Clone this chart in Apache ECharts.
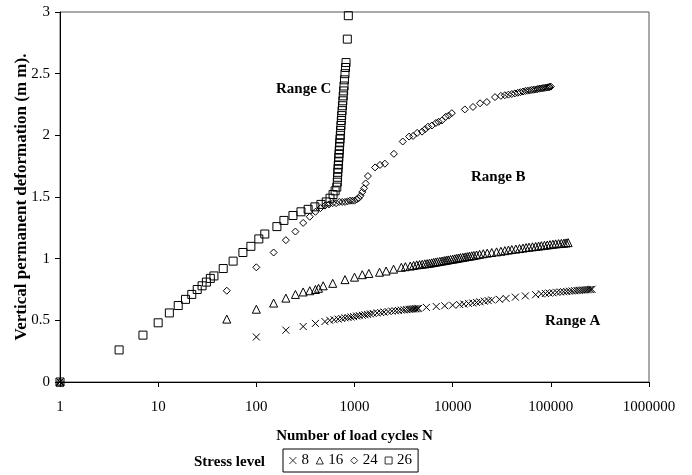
<!DOCTYPE html>
<html>
<head>
<meta charset="utf-8">
<script src="https://cdn.jsdelivr.net/npm/echarts@6/dist/echarts.min.js"></script>
<style>
html,body{margin:0;padding:0;background:#fff;}
#chart{width:692px;height:475px;}
</style>
</head>
<body>
<div id="chart"></div>
<script>
// Stress level names
const seriesNames = ['8', '16', '24', '26'];
// X-axis tick labels (log scale)
const xTicks = [1, 10, 100, 1000, 10000, 100000, 1000000];
// Y-axis tick labels
const yTicks = [0, 0.5, 1, 1.5, 2, 2.5, 3];

// Stress level 8 (x markers)
const n8 = [1, 100, 200, 300, 400, 500, 560, 620, 680, 740, 800, 860, 920, 980, 1050, 1120, 1200, 1280, 1360, 1450, 1550, 1700, 1850, 2000, 2200, 2400, 2600, 2800, 3000, 3200, 3400, 3600, 3750, 3900, 4050, 4200, 4350, 4500, 5400, 6800, 8300, 10000, 11800, 13000, 14500, 16000, 17500, 19000, 21000, 23000, 25000, 30000, 35000, 43500, 55000, 70000, 80000, 88000, 96000, 105000, 115000, 125000, 135000, 145000, 155000, 165000, 175000, 185000, 195000, 205000, 215000, 225000, 235000, 245000, 255000, 263000];
const v8 = [0, 0.365, 0.42, 0.45, 0.475, 0.49, 0.50, 0.505, 0.51, 0.515, 0.52, 0.523, 0.527, 0.53, 0.535, 0.538, 0.541, 0.545, 0.548, 0.552, 0.556, 0.56, 0.563, 0.567, 0.571, 0.575, 0.578, 0.58, 0.583, 0.585, 0.587, 0.589, 0.59, 0.592, 0.593, 0.594, 0.595, 0.597, 0.605, 0.612, 0.618, 0.623, 0.628, 0.632, 0.637, 0.641, 0.645, 0.65, 0.655, 0.66, 0.665, 0.67, 0.678, 0.688, 0.698, 0.708, 0.715, 0.718, 0.721, 0.724, 0.727, 0.73, 0.732, 0.734, 0.736, 0.738, 0.74, 0.742, 0.743, 0.745, 0.746, 0.747, 0.748, 0.749, 0.75, 0.752];

// Stress level 16 (triangles)
const n16 = [1, 50, 100, 150, 200, 250, 300, 350, 400, 430, 480, 600, 800, 1000, 1200, 1400, 1800, 2100, 2500, 3000, 3300, 3700, 4000, 4300, 4600, 4900, 5200, 5500, 5800, 6100, 6400, 6700, 7000, 7400, 7800, 8200, 8600, 9000, 9500, 10000, 10500, 11000, 11500, 12000, 12700, 13400, 14100, 14800, 15600, 16400, 17500, 18800, 20500, 22500, 25000, 28000, 31000, 34000, 37000, 40000, 44000, 48000, 52000, 56000, 60000, 65000, 70000, 75000, 80000, 86000, 92000, 98000, 105000, 112000, 120000, 128000, 136000, 143000, 150000];
const v16 = [0, 0.51, 0.59, 0.64, 0.68, 0.71, 0.73, 0.74, 0.75, 0.76, 0.78, 0.80, 0.83, 0.85, 0.87, 0.88, 0.89, 0.90, 0.915, 0.93, 0.935, 0.94, 0.945, 0.95, 0.952, 0.955, 0.958, 0.96, 0.963, 0.966, 0.969, 0.972, 0.975, 0.978, 0.981, 0.984, 0.987, 0.99, 0.993, 0.996, 0.999, 1.002, 1.005, 1.008, 1.011, 1.014, 1.017, 1.02, 1.023, 1.026, 1.03, 1.035, 1.04, 1.045, 1.05, 1.055, 1.06, 1.065, 1.07, 1.074, 1.078, 1.082, 1.086, 1.09, 1.093, 1.096, 1.099, 1.102, 1.105, 1.108, 1.111, 1.114, 1.117, 1.12, 1.122, 1.124, 1.126, 1.128, 1.13];

// Stress level 24 (diamonds)
const n24 = [1, 50, 100, 150, 200, 250, 300, 350, 400, 450, 500, 550, 600, 650, 700, 750, 800, 850, 900, 950, 1000, 1050, 1100, 1150, 1200, 1250, 1300, 1370, 1620, 1820, 2040, 2520, 3100, 3600, 3950, 4350, 4880, 5240, 5610, 6150, 6740, 7200, 7750, 8500, 9100, 9800, 13300, 16100, 19000, 22300, 27000, 31000, 34000, 37000, 40000, 43000, 46000, 49000, 52000, 55000, 58000, 61000, 64000, 67000, 70000, 73000, 76000, 79000, 82000, 85000, 88000, 91000, 94000, 97000, 100000];
const v24 = [0, 0.74, 0.93, 1.05, 1.15, 1.22, 1.29, 1.34, 1.38, 1.41, 1.43, 1.44, 1.45, 1.45, 1.46, 1.46, 1.46, 1.465, 1.47, 1.47, 1.47, 1.48, 1.49, 1.51, 1.54, 1.57, 1.61, 1.67, 1.74, 1.76, 1.77, 1.85, 1.95, 1.99, 1.995, 2.02, 2.03, 2.05, 2.07, 2.08, 2.10, 2.11, 2.12, 2.15, 2.16, 2.18, 2.21, 2.23, 2.26, 2.27, 2.31, 2.32, 2.325, 2.33, 2.335, 2.34, 2.345, 2.35, 2.355, 2.36, 2.362, 2.365, 2.368, 2.37, 2.372, 2.375, 2.378, 2.38, 2.382, 2.384, 2.386, 2.388, 2.39, 2.392, 2.395];

// Stress level 26 (squares)
const n26 = [1, 4, 7, 10, 13, 16, 19, 22, 25, 28, 31, 34, 37, 46, 58, 73, 88, 106, 122, 162, 191, 236, 285, 337, 395, 455, 515, 563, 605, 635, 660, 668, 672, 676, 680, 684, 688, 692, 696, 700, 704, 708, 712, 717, 722, 728, 734, 740, 747, 754, 761, 768, 775, 782, 790, 800, 810, 820, 845, 865];
const v26 = [0, 0.26, 0.38, 0.48, 0.56, 0.62, 0.67, 0.71, 0.75, 0.78, 0.81, 0.84, 0.86, 0.92, 0.98, 1.05, 1.10, 1.16, 1.20, 1.26, 1.31, 1.35, 1.38, 1.40, 1.42, 1.44, 1.46, 1.49, 1.52, 1.55, 1.58, 1.62, 1.66, 1.70, 1.73, 1.76, 1.79, 1.82, 1.85, 1.88, 1.91, 1.94, 1.97, 2.00, 2.04, 2.08, 2.12, 2.16, 2.20, 2.24, 2.28, 2.32, 2.36, 2.40, 2.45, 2.50, 2.55, 2.59, 2.78, 2.97];

// Range annotations
const rangeLabels = ['Range C', 'Range B', 'Range A'];

function zip(a, b) { return a.map((x, i) => [x, b[i]]); }

const FONT = '"Liberation Serif", "Times New Roman", serif';
const symbols = ['path://M0,0L10,10M10,0L0,10', 'triangle', 'diamond', 'rect'];
const sizes = [7, 8, 7, 8];
const dataSets = [zip(n8, v8), zip(n16, v16), zip(n24, v24), zip(n26, v26)];

const chart = echarts.init(document.getElementById('chart'), null, {renderer: 'canvas'});
chart.setOption({
  backgroundColor: '#fff',
  animation: false,
  textStyle: {fontFamily: FONT, color: '#000'},
  grid: {left: 60, right: 43, top: 12, bottom: 93, show: true, borderColor: '#555', borderWidth: 1,
    backgroundColor: 'transparent', containLabel: false, outerBoundsMode: 'none'},
  xAxis: {
    type: 'log', logBase: 10, min: xTicks[0], max: xTicks[xTicks.length - 1],
    name: 'Number of load cycles N', nameLocation: 'middle', nameGap: 47, nameMoveOverlap: false,
    nameTextStyle: {fontFamily: FONT, fontSize: 15, fontWeight: 'bold', color: '#000'},
    axisLine: {lineStyle: {color: '#000', width: 1}},
    axisTick: {show: true, length: 5, lineStyle: {color: '#000'}},
    minorTick: {show: false},
    splitLine: {show: false},
    axisLabel: {fontFamily: FONT, fontSize: 15, color: '#000', margin: 18,
      formatter: v => String(Math.round(v))}
  },
  yAxis: {
    type: 'value', min: yTicks[0], max: yTicks[yTicks.length - 1], interval: 0.5,
    name: 'Vertical permanent deformation (m m).', nameLocation: 'middle', nameGap: 30, nameRotate: 90,
    nameMoveOverlap: false,
    nameTextStyle: {fontFamily: FONT, fontSize: 17, fontWeight: 'bold', color: '#000'},
    axisLine: {show: true, lineStyle: {color: '#000', width: 1}},
    axisTick: {show: true, length: 5, lineStyle: {color: '#000'}},
    splitLine: {show: false},
    axisLabel: {fontFamily: FONT, fontSize: 15, color: '#000', margin: 10}
  },
  legend: {
    data: seriesNames,
    left: 283, top: 449,
    orient: 'horizontal',
    itemWidth: 7, itemHeight: 7, itemGap: 7,
    padding: [4, 6, 4, 6],
    borderColor: '#000', borderWidth: 1,
    itemStyle: {color: 'rgba(0,0,0,0)', borderColor: '#000', borderWidth: 0.8},
    textStyle: {fontFamily: FONT, fontSize: 15, color: '#000'}
  },
  graphic: [
    {type: 'text', left: 194, top: 455, style: {text: 'Stress level', font: 'bold 15px ' + FONT, fill: '#000'}},
    {type: 'text', left: 276, top: 82, style: {text: rangeLabels[0], font: 'bold 15px ' + FONT, fill: '#000'}},
    {type: 'text', left: 471, top: 170, style: {text: rangeLabels[1], font: 'bold 15px ' + FONT, fill: '#000'}},
    {type: 'text', left: 545, top: 314, style: {text: rangeLabels[2], font: 'bold 15px ' + FONT, fill: '#000'}}
  ],
  series: seriesNames.map((name, i) => ({
    name: name,
    type: 'scatter',
    data: dataSets[i],
    symbol: symbols[i],
    symbolSize: sizes[i],
    itemStyle: {color: 'rgba(0,0,0,0)', borderColor: '#000', borderWidth: 1, opacity: 1},
    emphasis: {disabled: true}
  }))
});
</script>
</body>
</html>
